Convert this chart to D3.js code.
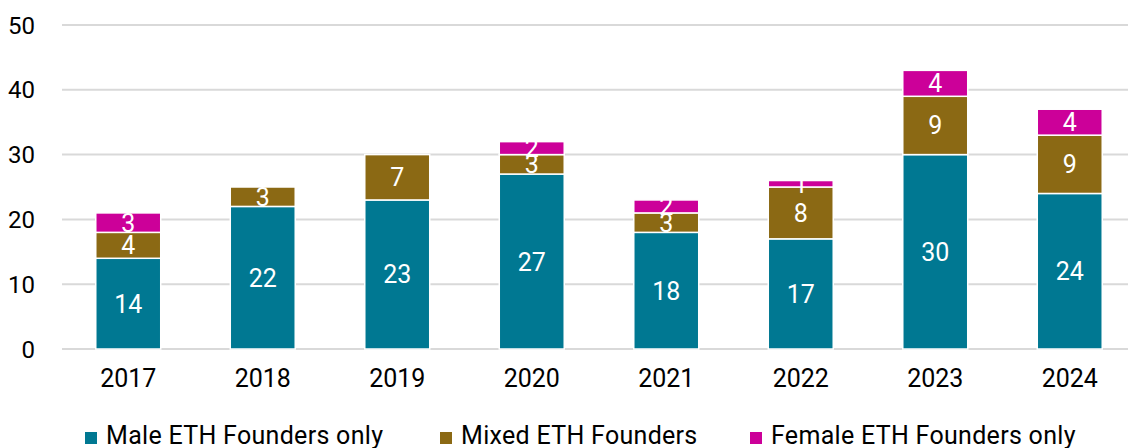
<!DOCTYPE html>
<html>
<head>
<meta charset="utf-8">
<script src="https://cdn.jsdelivr.net/npm/d3@7"></script>
<style>
  body { margin: 0; background: #fff; }
  text { font-family: "Roboto", "DejaVu Sans", sans-serif; }
</style>
</head>
<body>
<div id="chart-area"></div>
<script>
// data
var years = ["2017", "2018", "2019", "2020", "2021", "2022", "2023", "2024"];
var male = [14, 22, 23, 27, 18, 17, 30, 24];
var mixed = [4, 3, 7, 3, 3, 8, 9, 9];
var female = [3, 0, 0, 2, 2, 1, 4, 4];
var seriesNames = ["Male ETH Founders only", "Mixed ETH Founders", "Female ETH Founders only"];
var seriesColors = ["#007892", "#8b6914", "#cc0099"];
var yTicks = [0, 10, 20, 30, 40, 50];

var width = 1128, height = 448;

var svg = d3.select("#chart-area")
  .append("svg")
    .attr("width", width)
    .attr("height", height);

// scales
var x = d3.scaleBand()
  .domain(years)
  .range([61, 1137])
  .paddingInner(0.517)
  .paddingOuter(0.2585);

var y = d3.scaleLinear()
  .domain([0, 50])
  .range([349, 25]);

// gridlines
svg.append("g").selectAll("line")
  .data(yTicks)
  .enter().append("line")
    .attr("x1", 62)
    .attr("x2", width)
    .attr("y1", function(d) { return y(d); })
    .attr("y2", function(d) { return y(d); })
    .attr("stroke", "#d9d9d9")
    .attr("stroke-width", 2);

// y tick labels
svg.append("g").selectAll("text")
  .data(yTicks)
  .enter().append("text")
    .attr("x", 35)
    .attr("y", function(d) { return y(d); })
    .attr("dy", "0.36em")
    .attr("text-anchor", "end")
    .attr("font-size", "24px")
    .attr("fill", "#000")
    .text(function(d) { return d; });

// stack
var table = years.map(function(yr, i) {
  return { year: yr, male: male[i], mixed: mixed[i], female: female[i] };
});
var stack = d3.stack().keys(["male", "mixed", "female"]);
var layers = stack(table);

var layerG = svg.selectAll(".layer")
  .data(layers)
  .enter().append("g")
    .attr("class", "layer")
    .attr("fill", function(d, i) { return seriesColors[i]; });

layerG.selectAll("rect")
  .data(function(d) { return d.filter(function(p) { return p[1] - p[0] > 0; }); })
  .enter().append("rect")
    .attr("x", function(d) { return x(d.data.year); })
    .attr("width", x.bandwidth())
    .attr("y", function(d) { return y(d[1]); })
    .attr("height", function(d) { return y(d[0]) - y(d[1]); })
    .attr("stroke", "#fff")
    .attr("stroke-width", 1.5);

// value labels
layerG.selectAll("text")
  .data(function(d) { return d.filter(function(p) { return p[1] - p[0] > 0; }); })
  .enter().append("text")
    .attr("x", function(d) { return x(d.data.year) + x.bandwidth() / 2; })
    .attr("y", function(d) { return (y(d[0]) + y(d[1])) / 2; })
    .attr("dy", "0.36em")
    .attr("text-anchor", "middle")
    .attr("font-size", "25px")
    .attr("fill", "#fff")
    .text(function(d) { return d[1] - d[0]; });

// x labels
svg.append("g").selectAll("text")
  .data(years)
  .enter().append("text")
    .attr("x", function(d) { return x(d) + x.bandwidth() / 2; })
    .attr("y", 387)
    .attr("text-anchor", "middle")
    .attr("font-size", "25px")
    .attr("fill", "#000")
    .text(function(d) { return d; });

// legend
var legendX = [85, 440, 750];
var legend = svg.append("g").selectAll("g")
  .data(seriesNames)
  .enter().append("g")
    .attr("transform", function(d, i) { return "translate(" + legendX[i] + ",0)"; });

legend.append("rect")
  .attr("x", 0)
  .attr("y", 432)
  .attr("width", 12)
  .attr("height", 12)
  .attr("fill", function(d, i) { return seriesColors[i]; });

legend.append("text")
  .attr("x", 21)
  .attr("y", 444)
  .attr("font-size", "25px")
  .attr("letter-spacing", "0.3px")
  .attr("fill", "#000")
  .text(function(d) { return d; });
</script>
</body>
</html>
